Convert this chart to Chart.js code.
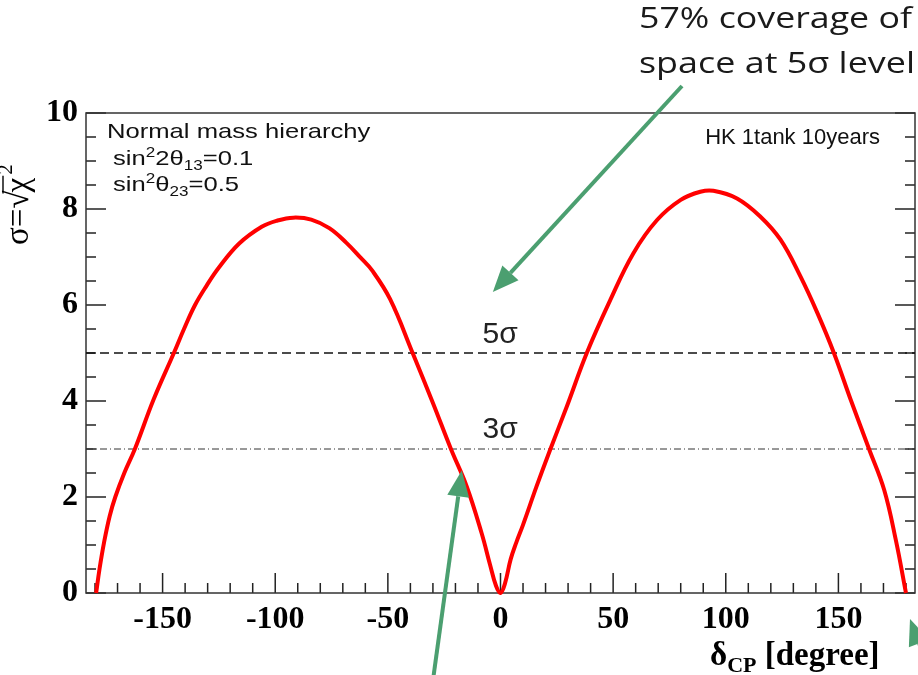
<!DOCTYPE html>
<html>
<head>
<meta charset="utf-8">
<script src="https://cdn.jsdelivr.net/npm/chart.js@4.4.1/dist/chart.umd.min.js"></script>
<style>
  html, body { margin: 0; padding: 0; background: #fff; }
  #wrap { width: 918px; height: 675px; }
</style>
</head>
<body>
<div id="wrap"><canvas id="chart" width="918" height="675"></canvas></div>
<script>
// delta_CP scan (degree) and significance sigma = sqrt(chi2)
const deltaCP = [-179.5, -178, -176, -173.5, -171, -167, -162.3, -154, -145, -140.5, -135.6,
  -130.5, -125, -116, -106, -99, -92, -84, -76, -68.5, -62, -57, -49, -39, -30, -22, -15,
  -8.4, -4.7, -2, 0,
  2, 4.5, 7, 10, 16, 22, 29.4, 38.3, 48.7, 59, 69.5, 80, 88.7, 94.5,
  105, 115.4, 124.3, 133.2, 140.7, 148, 155.5, 163.6, 170.3, 175.5, 180];
const sigma = [0, 0.5, 1.05, 1.6, 2.0, 2.5, 3.0, 4.03, 5.0, 5.5, 6.0,
  6.4, 6.78, 7.28, 7.63, 7.76, 7.82, 7.78, 7.6, 7.30, 6.98, 6.72, 6.12, 5.0, 3.96, 3.0, 2.22,
  1.25, 0.6, 0.15, 0,
  0.2, 0.7, 1.05, 1.42, 2.22, 2.98, 3.88, 5.0, 6.1, 7.08, 7.77, 8.19, 8.36, 8.38,
  8.22, 7.84, 7.36, 6.59, 5.83, 5.0, 4.02, 3.0, 2.15, 1.1, 0];

const xTicks = [-150, -100, -50, 0, 50, 100, 150];
const yTicks = [0, 2, 4, 6, 8, 10];
const xRange = [-184, 184];
const yRange = [0, 10];
const levels = [5, 3];   // 5 sigma and 3 sigma reference lines

const GREEN = '#4b9f70';
const sans = '"Liberation Sans", Arial, sans-serif';
const serif = '"Liberation Serif", "Times New Roman", serif';

function line(ctx, x1, y1, x2, y2) {
  ctx.beginPath(); ctx.moveTo(x1, y1); ctx.lineTo(x2, y2); ctx.stroke();
}

// draw a run of text pieces; '^' = superscript, '_' = subscript
function runs(ctx, parts, x, y, size, family, stretch, weight) {
  ctx.save();
  ctx.textAlign = 'left';
  ctx.translate(x, y);
  ctx.scale(stretch || 1, 1);
  let cx = 0;
  for (const [t, m] of parts) {
    const s = m ? Math.round(size * 0.66) : size;
    const dy = m === '^' ? -size * 0.4 : m === '_' ? size * 0.22 : 0;
    ctx.font = (weight || '') + ' ' + s + 'px ' + family;
    ctx.fillText(t, cx, dy);
    cx += ctx.measureText(t).width;
  }
  ctx.restore();
}

// text stretched to a given width, right aligned at xr
function fitRight(ctx, text, xr, y, width) {
  const w = ctx.measureText(text).width;
  ctx.save();
  ctx.translate(xr - width, y);
  ctx.scale(width / w, 1);
  ctx.textAlign = 'left';
  ctx.fillText(text, 0, 0);
  ctx.restore();
}

function arrow(ctx, x1, y1, x2, y2) {
  const a = Math.atan2(y2 - y1, x2 - x1);
  const hl = 26, hw = 11;
  const bx = x2 - hl * Math.cos(a), by = y2 - hl * Math.sin(a);
  ctx.strokeStyle = GREEN; ctx.fillStyle = GREEN; ctx.lineWidth = 4;
  line(ctx, x1, y1, bx, by);
  ctx.beginPath();
  ctx.moveTo(x2, y2);
  ctx.lineTo(bx + hw * Math.sin(a), by - hw * Math.cos(a));
  ctx.lineTo(bx - hw * Math.sin(a), by + hw * Math.cos(a));
  ctx.closePath(); ctx.fill();
}

const rootStyle = {
  id: 'rootStyle',
  beforeDatasetsDraw(chart) {
    const ctx = chart.ctx;
    const {left, right, top, bottom} = chart.chartArea;
    const xs = chart.scales.x, ys = chart.scales.y;
    ctx.save();
    ctx.strokeStyle = '#222'; ctx.lineWidth = 1.5;
    // inner tick marks, ROOT style
    for (let v = -180; v <= 180; v += 10) {
      const px = xs.getPixelForValue(v);
      line(ctx, px, bottom, px, bottom - (v % 50 === 0 ? 20 : 10));
    }
    for (let v = 0; v <= 10; v += 0.5) {
      const py = ys.getPixelForValue(v);
      const len = v % 2 === 0 ? 20 : 10;
      line(ctx, left, py, left + len, py);
      line(ctx, right, py, right - len, py);
    }
    ctx.strokeStyle = '#333'; ctx.lineWidth = 1.5;
    ctx.strokeRect(left, top, right - left, bottom - top);
    ctx.restore();
  },
  afterDatasetsDraw(chart) {
    const ctx = chart.ctx;
    const xs = chart.scales.x, ys = chart.scales.y;
    const X = v => xs.getPixelForValue(v), Y = v => ys.getPixelForValue(v);
    ctx.save();
    ctx.fillStyle = '#111';
    ctx.textBaseline = 'alphabetic';

    // legend block, top left
    runs(ctx, [['Normal mass hierarchy']], 107, 138, 21, sans, 1.22);
    runs(ctx, [['sin'], ['2', '^'], ['2θ'], ['13', '_'], ['=0.1']], 113, 165, 21, sans, 1.22);
    runs(ctx, [['sin'], ['2', '^'], ['θ'], ['23', '_'], ['=0.5']], 113, 191, 21, sans, 1.22);
    ctx.font = '22px ' + sans;
    ctx.textAlign = 'right';
    ctx.fillText('HK 1tank 10years', 880, 144);

    // level labels
    ctx.textAlign = 'left';
    ctx.fillStyle = '#222';
    ctx.font = '30px ' + sans;
    ctx.fillText('5σ', X(-8), Y(5) - 10);
    ctx.fillText('3σ', X(-8), Y(3) - 11);

    // y axis title  sigma = sqrt(chi^2)
    ctx.fillStyle = '#000';
    ctx.save();
    ctx.translate(28, 245);
    ctx.rotate(-Math.PI / 2);
    ctx.font = '33px ' + serif;
    ctx.fillText('σ=', 0, 0);
    let cx = ctx.measureText('σ=').width;
    ctx.fillText('√', cx, 0);
    cx += ctx.measureText('√').width - 2;
    const wchi = ctx.measureText('χ').width;
    ctx.fillText('χ', cx, 0);
    ctx.lineWidth = 1.4; ctx.strokeStyle = '#000';
    line(ctx, cx - 1, -25, cx + wchi + 2, -25);
    ctx.font = '21px ' + serif;
    ctx.fillText('2', cx + wchi + 3, -16);
    ctx.restore();

    // x axis title  delta_CP [degree]
    runs(ctx, [['δ'], ['CP', '_'], [' [degree]']], 710, 665, 33, serif, 1.0, 'bold');

    // annotation on top right
    ctx.fillStyle = '#1a1a1a';
    ctx.font = '29px "Open Sans", Lato, sans-serif';
    fitRight(ctx, '57% coverage of', 912, 28, 273);
    fitRight(ctx, 'space at 5σ level', 915, 73, 276);

    // green arrows
    arrow(ctx, 682, 86, X(-3.4), Y(6.27));
    arrow(ctx, 433, 680, X(-17.2), Y(2.55));
    arrow(ctx, 945, 712, 910, 619);
    ctx.restore();
  }
};

const serifTicks = {family: serif, size: 32, weight: 'bold'};

const chart = new Chart(document.getElementById('chart'), {
  type: 'scatter',
  data: {
    datasets: [
      {
        data: deltaCP.map((x, i) => ({x: x, y: sigma[i]})),
        showLine: true,
        borderColor: '#ff0000',
        borderWidth: 4,
        pointRadius: 0,
        tension: 0.4,
        clip: false
      },
      {
        data: xRange.map(x => ({x: x, y: levels[0]})),
        showLine: true,
        borderColor: '#111',
        borderWidth: 1.6,
        borderDash: [9, 5],
        pointRadius: 0
      },
      {
        data: xRange.map(x => ({x: x, y: levels[1]})),
        showLine: true,
        borderColor: '#333',
        borderWidth: 1,
        borderDash: [7, 3, 1, 3],
        pointRadius: 0
      }
    ]
  },
  options: {
    responsive: false,
    animation: false,
    devicePixelRatio: 1,
    layout: {padding: {left: 0, right: 3, top: 113, bottom: 0}},
    plugins: {legend: {display: false}, tooltip: {enabled: false}},
    scales: {
      x: {
        type: 'linear',
        min: xRange[0], max: xRange[1],
        grid: {display: false, drawTicks: false},
        border: {display: false},
        afterBuildTicks: s => { s.ticks = xTicks.map(v => ({value: v})); },
        afterFit: s => { s.height = 82; },
        ticks: {color: '#000', font: serifTicks, padding: 8, maxRotation: 0,
                callback: v => String(v)}
      },
      y: {
        type: 'linear',
        min: yRange[0], max: yRange[1],
        grid: {display: false, drawTicks: false},
        border: {display: false},
        afterBuildTicks: s => { s.ticks = yTicks.map(v => ({value: v})); },
        afterFit: s => { s.width = 86; },
        ticks: {color: '#000', font: serifTicks, padding: 8,
                callback: v => String(v)}
      }
    }
  },
  plugins: [rootStyle]
});
</script>
</body>
</html>
